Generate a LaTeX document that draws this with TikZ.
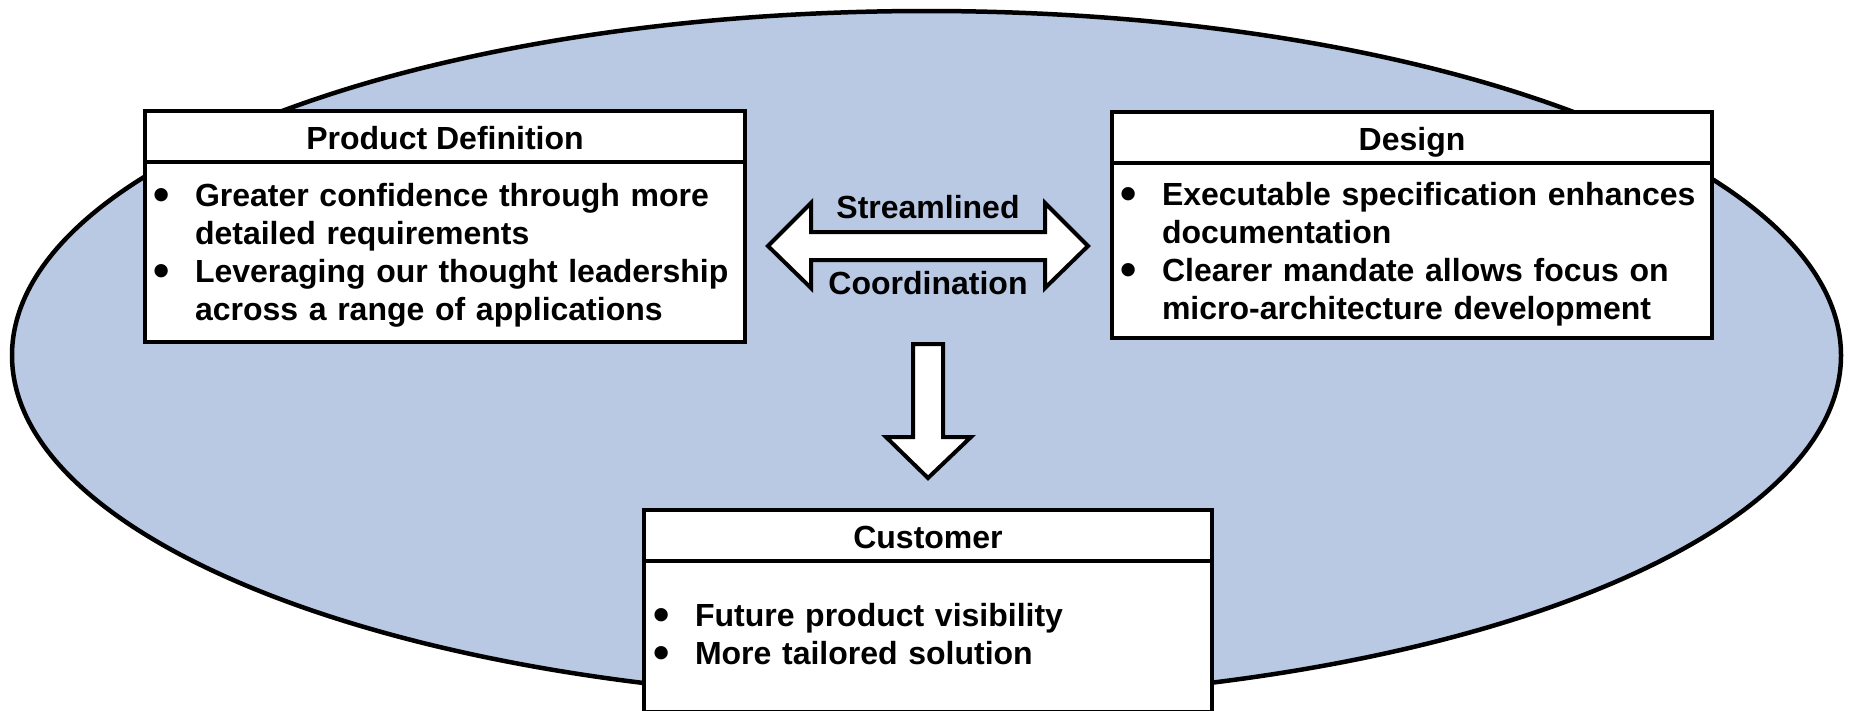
\documentclass[tikz,border=0pt]{standalone}
\usepackage{fontspec}
\setmainfont{Liberation Sans}
\usepackage{xcolor}
\usepackage{graphicx}
\usetikzlibrary{positioning}
\definecolor{ovalblue}{RGB}{185,201,227}
% bullet list set in a box body, lowered a little
\newcommand{\pointlist}[3]{\raisebox{-#1}[\height][\depth]{%
	\begin{tabular}{@{\hspace{#2}}p{42pt}@{}l@{}}#3\end{tabular}}}
\newcommand{\bulmark}{\raisebox{-4pt}[0pt][0pt]{\scalebox{1.45}{\textbullet}}}

\begin{document}
\begin{tikzpicture}[
			x=1pt, y=-1pt,
			every node/.style={font=\fontsize{32}{38}\selectfont\bfseries, outer sep=0pt},
			header/.style={draw, line width=4pt, fill=white, inner sep=0pt, minimum height=51pt,
				text height=26pt, text depth=0pt, anchor=north west},
			body/.style={draw, line width=4pt, fill=white, inner sep=0pt, align=left},
			blockarrow/.style={draw, line width=4pt, fill=white}
			]
			
			\useasboundingbox (0,0) rectangle (1853,710);
			\clip (0,0) rectangle (1853,710);
			
			% Oval
			\draw [fill=ovalblue, line width=4.5pt] (926.5,355.4) ellipse [x radius=914.5pt, y radius=344.4pt];
			
			% Nodes
			\node (pdhead) [header, minimum width=600pt] at (145,111) {Product Definition};
			\node (pdbody) [body, text width=600pt, minimum height=180pt, below=0pt of pdhead] {%
				\pointlist{3.4pt}{8pt}{%
				\bulmark & Greater confidence through more\\
				 & detailed requirements\\
				\bulmark & Leveraging our thought leadership\\
				 & across a range of applications}};
			\node (dshead) [header, minimum width=600pt] at (1112,112) {Design};
			\node (dsbody) [body, text width=600pt, minimum height=175pt, below=0pt of dshead] {%
				\pointlist{3.9pt}{8pt}{%
				\bulmark & Executable specification enhances\\
				 & documentation\\
				\bulmark & Clearer mandate allows focus on\\
				 & micro-architecture development}};
			\node (cshead) [header, minimum width=568pt] at (644,510) {Customer};
			\node (csbody) [body, text width=568pt, minimum height=151pt, below=0pt of cshead] {%
				\pointlist{0.9pt}{9pt}{%
				\bulmark & Future product visibility\\
				\bulmark & More tailored solution}};
			
			% Block arrows
			\draw [blockarrow] (768,246) -- (811,203) -- (811,232) -- (1045,232) -- (1045,203)
				-- (1088,246) -- (1045,288) -- (1045,260) -- (811,260) -- (811,288) -- cycle;
			\draw [blockarrow] (913,344) -- (943,344) -- (943,437) -- (971,437) -- (928,478)
				-- (886,437) -- (913,437) -- cycle;
			\node (stream) at (928,207) {Streamlined};
			\node (coord) at (928,283) {Coordination};
			
		\end{tikzpicture}
\end{document}
